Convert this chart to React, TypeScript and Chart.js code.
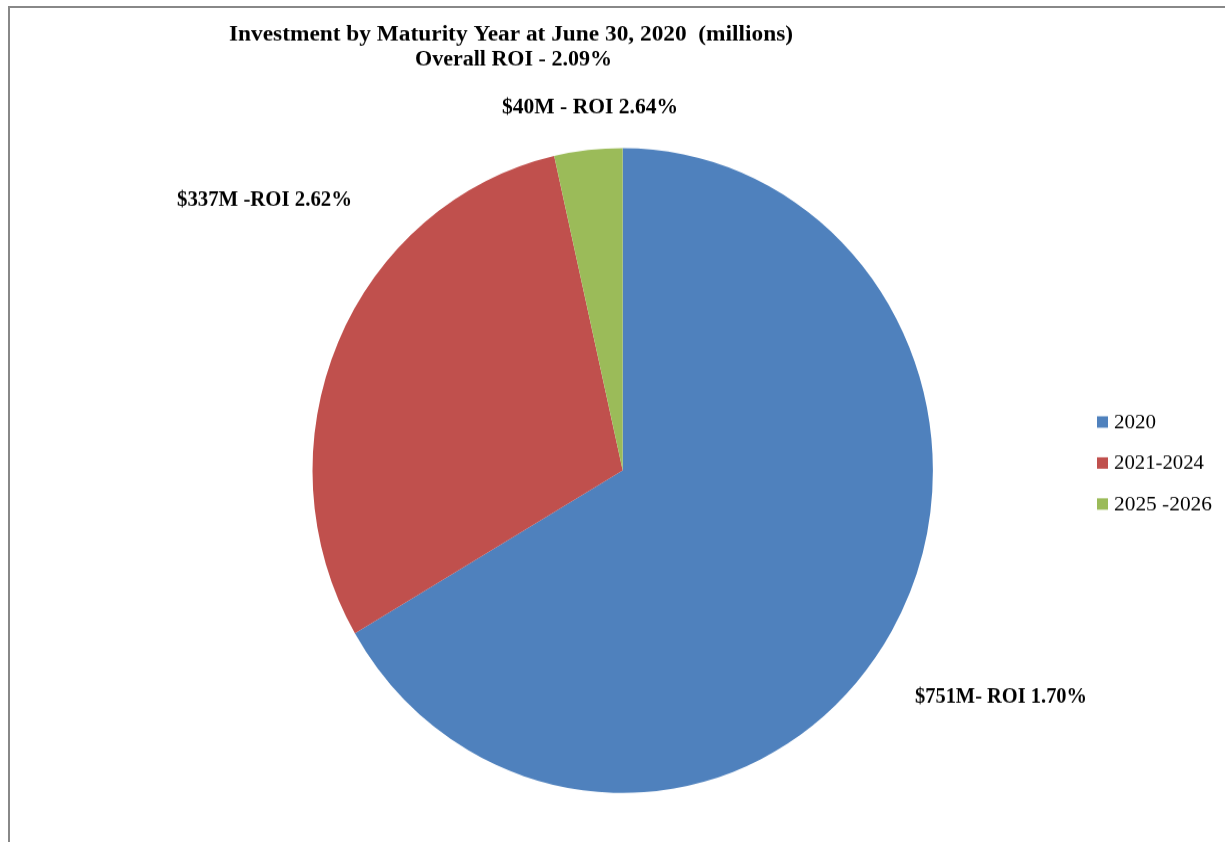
import React, { useEffect, useRef } from "react";
import { Chart, registerables } from "chart.js";

Chart.register(...registerables);

// ---- data ----
const categories = ["2020", "2021-2024", "2025 -2026"];
const amounts = [751, 337, 40];
const sliceLabels = ["$751M- ROI 1.70%", "$337M -ROI 2.62%", "$40M - ROI 2.64%"];
const titleLines = ["Investment by Maturity Year at June 30, 2020  (millions)", "Overall ROI - 2.09%"];
const sliceColors = ["#4F81BD", "#C0504D", "#9BBB59"];

// ---- layout (page coordinates) ----
const W = 1225;
const H_PAGE = 842;
const H = 810; // internal canvas height; stretched vertically to page height
const SY = H_PAGE / H;
const FONT = "'Liberation Serif', 'DejaVu Serif', serif";
// left x, center y, target width
const labelBoxes = [
  { x: 915, y: 697, w: 172 },
  { x: 177, y: 200, w: 175 },
  { x: 502, y: 108, w: 176 },
];
const titleBoxes = [
  { x: 229, y: 35, w: 564 },
  { x: 415, y: 60, w: 197 },
];
const legendLayout = { boxX: 1097, textX: 1114, firstY: 422, step: 41, box: 11, widths: [42, 90, 98] };

function fitText(ctx: CanvasRenderingContext2D, text: string, x: number, y: number, w: number) {
  const m = ctx.measureText(text).width;
  const k = w / m;
  ctx.save();
  ctx.translate(x, y);
  ctx.scale(k, 1);
  ctx.fillText(text, 0, 0);
  ctx.restore();
}

const textPlugin = {
  id: "textPlugin",
  afterDraw(chart: any) {
    const ctx = chart.ctx as CanvasRenderingContext2D;
    ctx.save();
    ctx.fillStyle = "#000";
    ctx.textAlign = "left";
    ctx.textBaseline = "middle";
    ctx.font = `bold 20px ${FONT}`;
    titleLines.forEach((t, i) => {
      fitText(ctx, t, titleBoxes[i].x, titleBoxes[i].y / SY, titleBoxes[i].w);
    });
    ctx.font = `bold 20px ${FONT}`;
    sliceLabels.forEach((t, i) => {
      fitText(ctx, t, labelBoxes[i].x, labelBoxes[i].y / SY, labelBoxes[i].w);
    });
    // legend
    ctx.font = `18px ${FONT}`;
    categories.forEach((c, i) => {
      const y = (legendLayout.firstY + i * legendLayout.step) / SY;
      ctx.fillStyle = sliceColors[i];
      ctx.fillRect(legendLayout.boxX, y - legendLayout.box / 2, legendLayout.box, legendLayout.box);
      ctx.fillStyle = "#000";
      fitText(ctx, c, legendLayout.textX, y + 1, legendLayout.widths[i]);
    });
    ctx.restore();
  },
};

export default function App() {
  const ref = useRef<HTMLCanvasElement | null>(null);
  useEffect(() => {
    if (!ref.current) return;
    const cx = 622.7;
    const cy = 470.5 / SY;
    const r = 310.2;
    const chart = new Chart(ref.current, {
      type: "pie",
      data: {
        labels: categories,
        datasets: [
          {
            data: amounts,
            backgroundColor: sliceColors,
            borderWidth: 0,
            hoverBorderWidth: 0,
            hoverOffset: 0,
          },
        ],
      },
      options: {
        responsive: false,
        animation: false,
        devicePixelRatio: 1,
        layout: {
          padding: {
            left: cx - r,
            right: W - (cx + r),
            top: cy - r,
            bottom: H - (cy + r),
          },
        },
        plugins: {
          legend: { display: false },
          title: { display: false },
          tooltip: { enabled: false },
        },
      },
      plugins: [textPlugin],
    });
    return () => chart.destroy();
  }, []);

  return (
    <div
      style={{
        position: "absolute",
        left: 0,
        top: 0,
        width: W,
        height: H_PAGE,
        overflow: "hidden",
        background: "#fff",
      }}
    >
      <div
        style={{
          position: "absolute",
          left: 8,
          top: 6,
          width: W + 50,
          height: H_PAGE + 50,
          borderTop: "2px solid #888",
          borderLeft: "2px solid #888",
        }}
      />
      <canvas
        ref={ref}
        width={W}
        height={H}
        style={{ position: "absolute", left: 0, top: 0, width: W, height: H_PAGE, display: "block" }}
      />
    </div>
  );
}
